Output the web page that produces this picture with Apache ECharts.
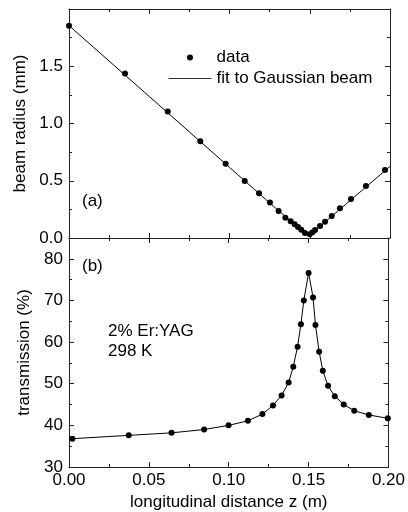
<!DOCTYPE html>
<html>
<head>
<meta charset="utf-8">
<script src="https://cdn.jsdelivr.net/npm/echarts@6/dist/echarts.min.js"></script>
<style>
html,body{margin:0;padding:0;background:#fff;}
#chart{width:408px;height:512px;}
</style>
</head>
<body>
<div id="chart"></div>
<script>
// (a) beam radius, measured points
var zA = [0.0, 0.0349, 0.0615, 0.0818, 0.0976, 0.1095, 0.1184, 0.1252, 0.1306, 0.1348, 0.1381, 0.1406, 0.1427, 0.1447, 0.1470, 0.1500, 0.1517, 0.1533, 0.1564, 0.1595, 0.1637, 0.1688, 0.1757, 0.1850, 0.1969];
var radius = [1.853, 1.437, 1.105, 0.846, 0.648, 0.497, 0.390, 0.311, 0.236, 0.177, 0.146, 0.120, 0.096, 0.072, 0.044, 0.032, 0.050, 0.070, 0.105, 0.142, 0.192, 0.259, 0.340, 0.454, 0.593];
// (a) gaussian beam fit curve
var fitZ = [0.0, 0.05, 0.10, 0.12, 0.13, 0.14, 0.145, 0.148, 0.150, 0.152, 0.155, 0.16, 0.17, 0.18, 0.20];
var fitR = [1.855, 1.236, 0.617, 0.369, 0.245, 0.127, 0.070, 0.042, 0.032, 0.045, 0.085, 0.145, 0.265, 0.385, 0.625];
// (b) transmission
var zB = [0.0021, 0.0374, 0.0642, 0.0846, 0.0999, 0.1120, 0.1211, 0.1277, 0.1331, 0.1375, 0.1404, 0.1431, 0.1452, 0.1470, 0.1500, 0.1528, 0.1543, 0.1566, 0.1589, 0.1622, 0.1664, 0.1720, 0.1786, 0.1877, 0.1996];
var trans = [36.8, 37.6, 38.2, 39.0, 40.0, 41.1, 42.7, 44.8, 47.2, 50.3, 54.1, 58.9, 64.3, 70.0, 76.6, 70.7, 64.1, 57.7, 53.1, 49.5, 47.0, 45.0, 43.5, 42.5, 41.7];

var font = "'Liberation Sans', Arial, sans-serif";
var ink = '#000';

function pairs(xs, ys){
    var out = [];
    for (var i = 0; i < xs.length; i++) out.push([xs[i], ys[i]]);
    return out;
}

// shared look for every frame axis
function frameAxis(extra){
    var ax = {
        axisLine: {show: true, onZero: false, lineStyle: {color: '#222', width: 1}},
        axisTick: {show: true, inside: true, length: 5, lineStyle: {color: '#222'}},
        minorTick: {show: true, splitNumber: 2, length: 3, lineStyle: {color: '#222'}},
        splitLine: {show: false},
        axisLabel: {show: false}
    };
    for (var k in extra) ax[k] = extra[k];
    return ax;
}

var xLabel = {show: true, margin: 5, color: ink, fontSize: 17, fontFamily: font,
    formatter: function(v){ return v.toFixed(2); }};

var xAxes = [
    frameAxis({type: 'value', gridIndex: 0, position: 'bottom', min: 0, max: 0.2, interval: 0.05}),
    frameAxis({type: 'value', gridIndex: 0, position: 'top', min: 0, max: 0.2, interval: 0.05}),
    frameAxis({type: 'value', gridIndex: 1, position: 'bottom', min: 0, max: 0.2, interval: 0.05,
        axisLabel: xLabel,
        name: 'longitudinal distance z (m)', nameLocation: 'middle', nameGap: 27,
        nameTextStyle: {color: ink, fontSize: 17, fontFamily: font}}),
    frameAxis({type: 'value', gridIndex: 1, position: 'top', min: 0, max: 0.2, interval: 0.05})
];

var yAxes = [
    frameAxis({type: 'value', gridIndex: 0, position: 'left', min: 0, max: 2.0, interval: 0.5,
        axisLabel: {show: true, margin: 6, color: ink, fontSize: 17, fontFamily: font,
            formatter: function(v){ return v >= 2 ? '' : v.toFixed(1); }},
        name: 'beam radius (mm)', nameLocation: 'middle', nameGap: 30,
        nameTextStyle: {color: ink, fontSize: 17, fontFamily: font}}),
    frameAxis({type: 'value', gridIndex: 0, position: 'right', min: 0, max: 2.0, interval: 0.5}),
    frameAxis({type: 'value', gridIndex: 1, position: 'left', min: 30, max: 85, interval: 10,
        axisLabel: {show: true, margin: 6, color: ink, fontSize: 17, fontFamily: font,
            formatter: function(v){ return v % 10 === 0 ? String(v) : ''; }},
        name: 'transmission (%)', nameLocation: 'middle', nameGap: 30,
        nameTextStyle: {color: ink, fontSize: 17, fontFamily: font}}),
    frameAxis({type: 'value', gridIndex: 1, position: 'right', min: 30, max: 85, interval: 10})
];

var myChart = echarts.init(document.getElementById('chart'), null, {renderer: 'canvas'});
var option = {
    backgroundColor: '#fff',
    animation: false,
    textStyle: {fontFamily: font},
    grid: [
        {left: 69, right: 18, top: 9, height: 229},
        {left: 69, right: 18, top: 238, height: 229}
    ],
    xAxis: xAxes,
    yAxis: yAxes,
    legend: {
        orient: 'vertical',
        left: 163, top: 44,
        itemWidth: 43, itemHeight: 6, itemGap: 4,
        textStyle: {color: ink, fontSize: 17, fontFamily: font},
        data: [
            {name: 'data', icon: 'circle', itemStyle: {color: ink, opacity: 1}},
            {name: 'fit to Gaussian beam', itemStyle: {opacity: 0}, lineStyle: {color: '#333', width: 1}}
        ]
    },
    graphic: [
        {type: 'text', left: 82, top: 193, style: {text: '(a)', fill: ink, font: '17px ' + font}},
        {type: 'text', left: 82, top: 258, style: {text: '(b)', fill: ink, font: '17px ' + font}},
        {type: 'text', left: 108, top: 321, style: {text: '2% Er:YAG\n298 K', fill: ink, font: '17px ' + font, lineHeight: 20}}
    ],
    series: [
        {
            name: 'fit to Gaussian beam', type: 'line', xAxisIndex: 0, yAxisIndex: 0,
            data: pairs(fitZ, fitR), symbol: 'none', smooth: 0.3,
            lineStyle: {color: ink, width: 1}, itemStyle: {color: ink}, z: 2
        },
        {
            name: 'data', type: 'scatter', xAxisIndex: 0, yAxisIndex: 0,
            data: pairs(zA, radius), symbol: 'circle', symbolSize: 6,
            itemStyle: {color: ink, opacity: 1}, z: 3
        },
        {
            name: 'transmission', type: 'line', xAxisIndex: 2, yAxisIndex: 2,
            data: pairs(zB, trans), symbol: 'circle', symbolSize: 6, showAllSymbol: true,
            lineStyle: {color: ink, width: 1}, itemStyle: {color: ink, opacity: 1}
        }
    ]
};
myChart.setOption(option);
window.addEventListener('resize', myChart.resize);
</script>
</body>
</html>
